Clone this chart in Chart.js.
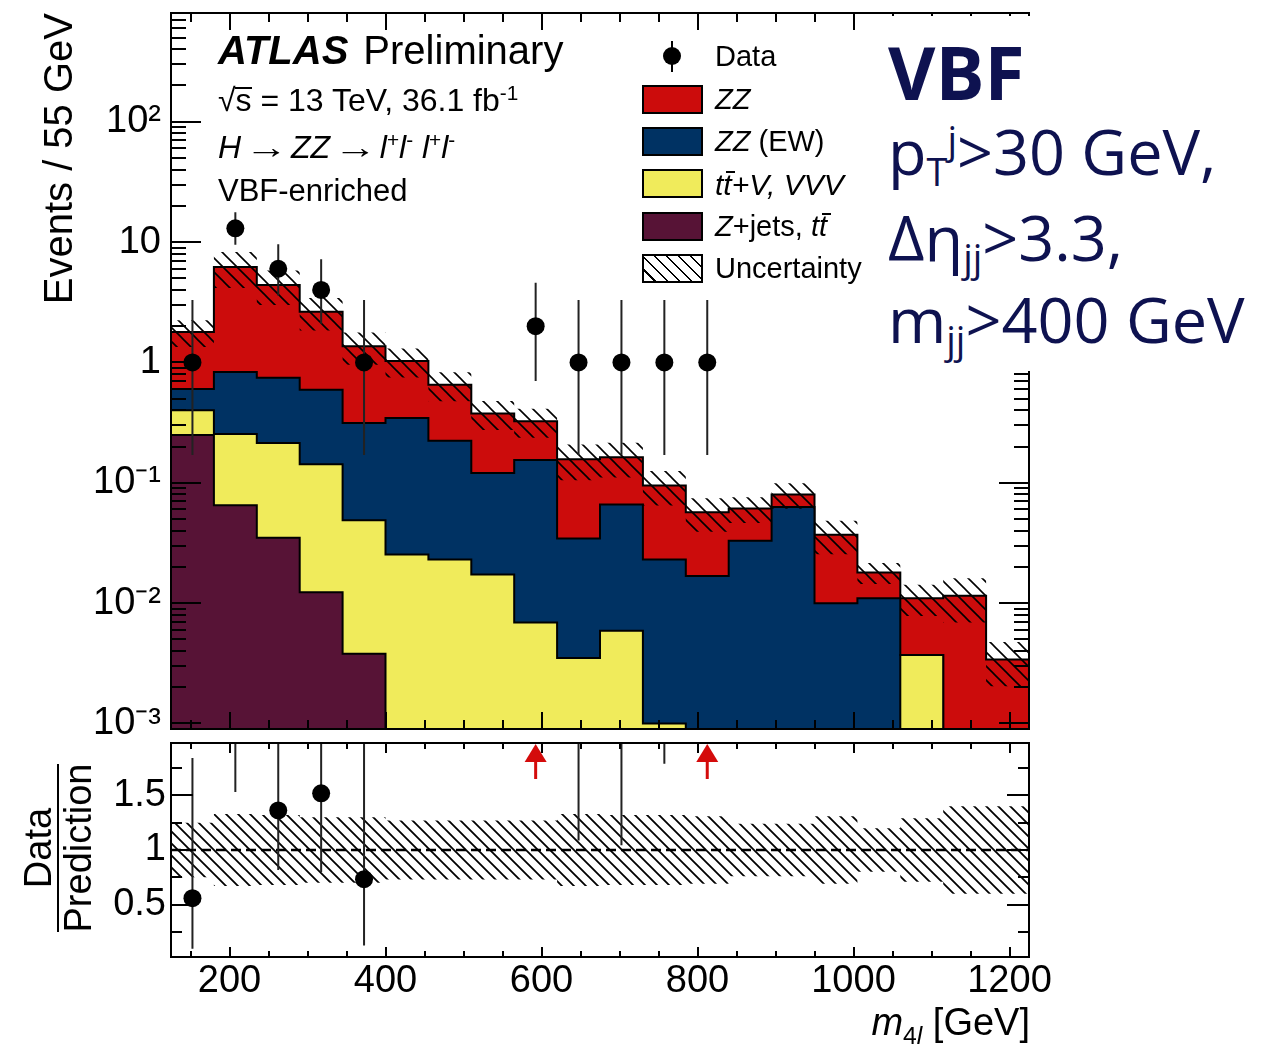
<!DOCTYPE html>
<html><head><meta charset="utf-8">
<title>ATLAS Preliminary m4l VBF-enriched</title>
<script src="https://cdn.jsdelivr.net/npm/chart.js@4.4.1/dist/chart.umd.min.js"></script>
<style>
html,body{margin:0;padding:0;background:#fff}
#wrap{position:relative;width:1275px;height:1048px;overflow:hidden;background:#fff;font-family:"Liberation Sans",Arial,Helvetica,sans-serif;color:#000}
#wrap canvas{position:absolute;left:0;pointer-events:none}
.t{position:absolute;white-space:nowrap;line-height:1}
.sup{position:relative;font-size:0.65em;top:-0.55em}
.sub{position:relative;font-size:0.65em;top:0.3em}
.sw{position:absolute;left:642px;width:61px;height:29px;box-sizing:border-box;border:2px solid #000}
.navy{position:absolute;white-space:nowrap;line-height:1;color:#0e1250;font-family:"Open Sans",sans-serif}
.tb{display:inline-block;position:relative}
.tb::after{content:"";position:absolute;left:3px;top:1px;width:9px;height:2px;background:#000}
.sb{display:inline-block;position:relative}
.sb::after{content:"";position:absolute;left:-1px;top:3px;width:17px;height:1.5px;background:#000}
</style></head><body>
<div id="wrap">
 <canvas id="mainChart" width="1275" height="1088" style="top:-40px"></canvas>
 <canvas id="ratioChart" width="1275" height="1048" style="top:0px"></canvas>
 <div style="position:absolute;left:880px;top:16px;width:395px;height:355px;background:#fff"></div>

 <div class="t" style="left:218px;top:30px;font-size:40px"><b><i>ATLAS</i></b><span style="margin-left:15px">Preliminary</span></div>
 <div class="t" style="left:218px;top:84px;font-size:32px">√<span class="sb">s</span> = 13 TeV, 36.1 fb<span class="sup">-1</span></div>
 <div class="t" style="left:218px;top:131px;font-size:32px"><i>H</i> <span style="display:inline-block;transform:scaleX(1.35)">→</span> <i>ZZ</i> <span style="display:inline-block;transform:scaleX(1.35)">→</span> <i>l</i><span class="sup">+</span><i>l</i><span class="sup">-</span> <i>l</i><span class="sup">+</span><i>l</i><span class="sup">-</span></div>
 <div class="t" style="left:218px;top:175px;font-size:31px">VBF-enriched</div>

 <div style="position:absolute;left:671px;top:41px;width:2px;height:31px;background:#000"></div>
 <div style="position:absolute;left:663px;top:47px;width:18px;height:18px;border-radius:50%;background:#000"></div>
 <div class="t" style="left:715px;top:42px;font-size:29px">Data</div>
 <div class="sw" style="top:85px;background:#cc0c0c"></div>
 <div class="t" style="left:715px;top:85px;font-size:29px"><i>ZZ</i></div>
 <div class="sw" style="top:127px;background:#003263"></div>
 <div class="t" style="left:715px;top:127px;font-size:29px"><i>ZZ</i> (EW)</div>
 <div class="sw" style="top:169px;background:#f0eb5b"></div>
 <div class="t" style="left:715px;top:170px;font-size:30px"><i>t<span class="tb">t</span>+V, VVV</i></div>
 <div class="sw" style="top:212px;background:#571336"></div>
 <div class="t" style="left:715px;top:212px;font-size:29px"><i>Z</i>+jets, <i>t<span class="tb">t</span></i></div>
 <div class="sw" style="top:254px;background:repeating-linear-gradient(45deg,#fff 0,#fff 7px,#000 7px,#000 8.6px)"></div>
 <div class="t" style="left:715px;top:254px;font-size:29px">Uncertainty</div>

 <div class="navy" style="left:888px;top:35px;font-size:73px;font-weight:bold">VBF</div>
 <div class="navy" style="left:888px;top:119px;font-size:63px">p<span style="font-size:0.6em;position:relative;top:0.3em">T</span><span style="font-size:0.6em;position:relative;top:-0.55em">j</span>&gt;30 GeV,</div>
 <div class="navy" style="left:888px;top:205px;font-size:63px">Δη<span style="font-size:0.6em;position:relative;top:0.3em">jj</span>&gt;3.3,</div>
 <div class="navy" style="left:888px;top:287px;font-size:63px">m<span style="font-size:0.6em;position:relative;top:0.3em">jj</span>&gt;400 GeV</div>

 <div style="position:absolute;left:-27px;top:809px;width:170px;height:78px;transform:rotate(-90deg);text-align:center;font-size:38px;line-height:38px">
   <div>Data</div><div style="height:2px;background:#000;margin:0 1px"></div><div>Prediction</div>
 </div>
 <div class="t" style="right:245px;top:1003px;font-size:38px"><i>m</i><span class="sub" style="top:0.38em">4<i>l</i></span> [GeV]</div>
</div>
<script>
// ---------------- data ----------------
const binEdges = [125,180,235,290,345,400,455,510,565,620,675,730,785,840,895,950,1005,1060,1115,1170,1225];
// stacked components, events per 55 GeV bin (bottom to top)
const zJetsTT = [0.249,0.065,0.035,0.0123,0.0038,0,0,0,0,0,0,0,0,0,0,0,0,0,0,0];
const ttV_VVV = [0.151,0.189,0.179,0.130,0.045,0.0254,0.023,0.0173,0.0069,0.0035,0.0059,0.0010,0,0,0,0,0,0.0037,0,0];
const zzEW    = [0.20,0.58,0.53,0.45,0.265,0.32,0.20,0.103,0.148,0.031,0.060,0.022,0.0168,0.033,0.063,0.010,0.011,0,0,0];
const zzQCD   = [1.19,5.37,3.66,2.04,1.05,0.68,0.43,0.256,0.169,0.122,0.097,0.072,0.040,0.028,0.017,0.027,0.007,0.0073,0.0115,0.0034];
// relative uncertainty of the total prediction
const relUncertainty = [0.25,0.33,0.32,0.30,0.30,0.27,0.27,0.27,0.27,0.33,0.32,0.32,0.31,0.24,0.24,0.31,0.20,0.29,0.40,0.40];
// observed data and asymmetric Poisson errors
const dataCounts  = [1,13,6,4,1,0,0,0,2,1,1,1,1,0,0,0,0,0,0,0];
const dataErrDown = [0.83,3.5,2.4,1.9,0.83,0,0,0,1.3,0.83,0.83,0.83,0.83,0,0,0,0,0,0,0];
const dataErrUp   = [2.3,4.7,3.6,3.2,2.3,0,0,0,2.6,2.3,2.3,2.3,2.3,0,0,0,0,0,0,0];
// axes
const yTickValues = [1e-3,1e-2,1e-1,1,10,100];
const yTickLabels = ['10⁻³','10⁻²','10⁻¹','1','10','10²'];
const xTickValues = [200,400,600,800,1000,1200];
const xTickLabels = ['200','400','600','800','1000','1200'];
const ratioTickValues = [0.5,1,1.5];
const ratioTickLabels = ['0.5','1','1.5'];
const X_MIN = 125, X_MAX = 1225, Y_MIN = 9e-4, Y_MAX = 800, R_MIN = 0.02, R_MAX = 1.98;

// ---------------- derived ----------------
const FONT = '"Liberation Sans", Arial, Helvetica, sans-serif';
const nb = binEdges.length - 1;
const centers = binEdges.slice(0, -1).map((e, i) => (e + binEdges[i + 1]) / 2);
const layers = [zJetsTT, ttV_VVV, zzEW, zzQCD];
const cum = [];
let run = new Array(nb).fill(0);
layers.forEach(l => { run = run.map((r, i) => r + l[i]); cum.push(run.slice()); });
const total = cum[cum.length - 1];
const steps = (vals, floor) => binEdges.map((e, i) => ({x: e, y: Math.max(vals[Math.min(i, nb - 1)], floor)}));
const obs = [];
for (let i = 0; i < nb; i++) if (dataCounts[i] > 0) obs.push(i);

function makeHatch(size, lw) {
  const c = document.createElement('canvas'); c.width = size; c.height = size;
  const g = c.getContext('2d'); g.strokeStyle = '#000'; g.lineWidth = lw;
  g.beginPath(); g.moveTo(0, 0); g.lineTo(size, size);
  g.moveTo(size - 3, -3); g.lineTo(size + 3, 3); g.moveTo(-3, size - 3); g.lineTo(3, size + 3);
  g.stroke();
  return g.createPattern(c, 'repeat');
}

const xMinorTicks = [];
for (let v = 150; v < X_MAX; v += 50) if (!xTickValues.includes(v)) xMinorTicks.push(v);
const yMinorTicks = [];
for (let k = -4; k <= 2; k++) for (let m = 2; m <= 9; m++) { const v = m * Math.pow(10, k); if (v > Y_MIN && v < Y_MAX) yMinorTicks.push(v); }
const rMinorTicks = [0.25, 0.75, 1.25, 1.75];

function framePlugin(o) {
  return { id: 'frame', afterDraw(chart) {
    const {ctx, chartArea: a} = chart; const x = chart.scales.x, y = chart.scales.y;
    ctx.save(); ctx.strokeStyle = '#000'; ctx.lineWidth = 2; ctx.beginPath();
    const xt = (vals, len) => vals.forEach(v => { const p = Math.round(x.getPixelForValue(v)); ctx.moveTo(p, a.bottom); ctx.lineTo(p, a.bottom - len); ctx.moveTo(p, a.top); ctx.lineTo(p, a.top + len); });
    const yt = (vals, len) => vals.forEach(v => { const p = Math.round(y.getPixelForValue(v)); ctx.moveTo(a.left, p); ctx.lineTo(a.left + len, p); ctx.moveTo(a.right, p); ctx.lineTo(a.right - len, p); });
    xt(xTickValues, o.xMaj); xt(xMinorTicks, o.xMin); yt(o.yMajor, o.yMaj); yt(o.yMinor, o.yMin);
    ctx.stroke(); ctx.strokeRect(a.left, a.top, a.width, a.height); ctx.restore();
  }};
}
function errorBarPlugin(getLo, getHi) {
  return { id: 'errbars', beforeDatasetDraw(chart, args) {
    if (args.index !== 0) return;
    const {ctx, chartArea: a} = chart; const x = chart.scales.x, y = chart.scales.y;
    ctx.save(); ctx.beginPath(); ctx.rect(a.left, a.top, a.width, a.height); ctx.clip();
    ctx.strokeStyle = '#222'; ctx.lineWidth = 2; ctx.beginPath();
    obs.forEach(i => { const p = x.getPixelForValue(centers[i]); ctx.moveTo(p, y.getPixelForValue(getLo(i))); ctx.lineTo(p, y.getPixelForValue(getHi(i))); });
    ctx.stroke(); ctx.restore();
  }};
}

const stack = (label, color, vals) => ({label, data: steps(vals, Y_MIN), stepped: true, pointRadius: 0, borderColor: '#000', borderWidth: 2, backgroundColor: color, fill: 'start'});
const axisFont = {family: FONT, size: 38};

new Chart(document.getElementById('mainChart'), {
  type: 'line',
  data: { datasets: [
    {label: 'Data', data: obs.map(i => ({x: centers[i], y: dataCounts[i]})), showLine: false, pointRadius: 9, pointBackgroundColor: '#000', pointBorderWidth: 0},
    {label: 'Uncertainty', data: steps(total.map((t, i) => t * (1 + relUncertainty[i])), Y_MIN), stepped: true, pointRadius: 0, borderColor: 'rgba(0,0,0,0)', borderWidth: 0, fill: 2, backgroundColor: makeHatch(14, 1.6)},
    {label: 'unc-low', data: steps(total.map((t, i) => t * (1 - relUncertainty[i])), Y_MIN), stepped: true, pointRadius: 0, borderColor: 'rgba(0,0,0,0)', borderWidth: 0, fill: false},
    stack('Z+jets, tt̄', '#571336', cum[0]),
    stack('tt̄+V, VVV', '#f0eb5b', cum[1]),
    stack('ZZ (EW)', '#003263', cum[2]),
    stack('ZZ', '#cc0c0c', cum[3])
  ]},
  options: {
    responsive: false, animation: false, events: [],
    layout: {padding: {top: 53, right: 246, bottom: 319, left: 0}},
    plugins: {legend: {display: false}, tooltip: {enabled: false}},
    scales: {
      x: {type: 'linear', min: X_MIN, max: X_MAX, display: false},
      y: {type: 'logarithmic', min: Y_MIN, max: Y_MAX,
          afterFit(s) { s.width = 171; },
          afterBuildTicks(s) { s.ticks = yTickValues.map(v => ({value: v})); },
          grid: {display: false, drawTicks: false}, border: {display: false},
          ticks: {callback: (v, i) => yTickLabels[i], font: axisFont, color: '#000', padding: 10, autoSkip: false, maxRotation: 0},
          title: {display: true, text: 'Events / 55 GeV', align: 'end', color: '#000', font: {family: FONT, size: 40}, padding: {top: 37, bottom: 0}}}
    }
  },
  plugins: [framePlugin({yMajor: yTickValues, yMinor: yMinorTicks, xMaj: 17, xMin: 9, yMaj: 30, yMin: 15}),
            errorBarPlugin(i => dataCounts[i] - dataErrDown[i], i => dataCounts[i] + dataErrUp[i])]
});

const arrowPlugin = { id: 'arrows', afterDatasetsDraw(chart) {
  const {ctx, chartArea: a} = chart; const x = chart.scales.x;
  ctx.save(); ctx.fillStyle = '#d40b0b'; ctx.strokeStyle = '#d40b0b'; ctx.lineWidth = 3;
  obs.forEach(i => {
    if ((dataCounts[i] - dataErrDown[i]) / total[i] <= R_MAX) return;
    const p = x.getPixelForValue(centers[i]);
    ctx.beginPath(); ctx.moveTo(p, a.top + 17); ctx.lineTo(p, a.top + 36); ctx.stroke();
    ctx.beginPath(); ctx.moveTo(p, a.top + 1); ctx.lineTo(p + 11, a.top + 19); ctx.lineTo(p - 11, a.top + 19); ctx.closePath(); ctx.fill();
  });
  ctx.restore();
}};

new Chart(document.getElementById('ratioChart'), {
  type: 'line',
  data: { datasets: [
    {label: 'Data/Prediction', data: obs.map(i => ({x: centers[i], y: dataCounts[i] / total[i]})), showLine: false, pointRadius: 9, pointBackgroundColor: '#000', pointBorderWidth: 0},
    {label: 'unity', data: [{x: X_MIN, y: 1}, {x: X_MAX, y: 1}], pointRadius: 0, borderColor: '#000', borderWidth: 2.5, borderDash: [10, 5], fill: false},
    {label: 'Uncertainty', data: steps(relUncertainty.map(u => 1 + u), -1), stepped: true, pointRadius: 0, borderColor: 'rgba(0,0,0,0)', borderWidth: 0, fill: 3, backgroundColor: makeHatch(12, 1.8)},
    {label: 'unc-low', data: steps(relUncertainty.map(u => 1 - u), -1), stepped: true, pointRadius: 0, borderColor: 'rgba(0,0,0,0)', borderWidth: 0, fill: false}
  ]},
  options: {
    responsive: false, animation: false, events: [],
    layout: {padding: {top: 743, right: 246, bottom: 0, left: 0}},
    plugins: {legend: {display: false}, tooltip: {enabled: false}},
    scales: {
      x: {type: 'linear', min: X_MIN, max: X_MAX,
          afterFit(s) { s.height = 91; },
          afterBuildTicks(s) { s.ticks = xTickValues.map(v => ({value: v})); },
          grid: {display: false, drawTicks: false}, border: {display: false},
          ticks: {callback: (v, i) => xTickLabels[i], font: axisFont, color: '#000', padding: 2, autoSkip: false, maxRotation: 0}},
      y: {type: 'linear', min: R_MIN, max: R_MAX,
          afterFit(s) { s.width = 171; },
          afterBuildTicks(s) { s.ticks = ratioTickValues.map(v => ({value: v})); },
          grid: {display: false, drawTicks: false}, border: {display: false},
          ticks: {callback: (v, i) => ratioTickLabels[i], font: axisFont, color: '#000', padding: 5, autoSkip: false, maxRotation: 0}}
    }
  },
  plugins: [framePlugin({yMajor: ratioTickValues, yMinor: rMinorTicks, xMaj: 10, xMin: 6, yMaj: 22, yMin: 11}),
            errorBarPlugin(i => (dataCounts[i] - dataErrDown[i]) / total[i], i => (dataCounts[i] + dataErrUp[i]) / total[i]),
            arrowPlugin]
});
</script>
</body></html>
